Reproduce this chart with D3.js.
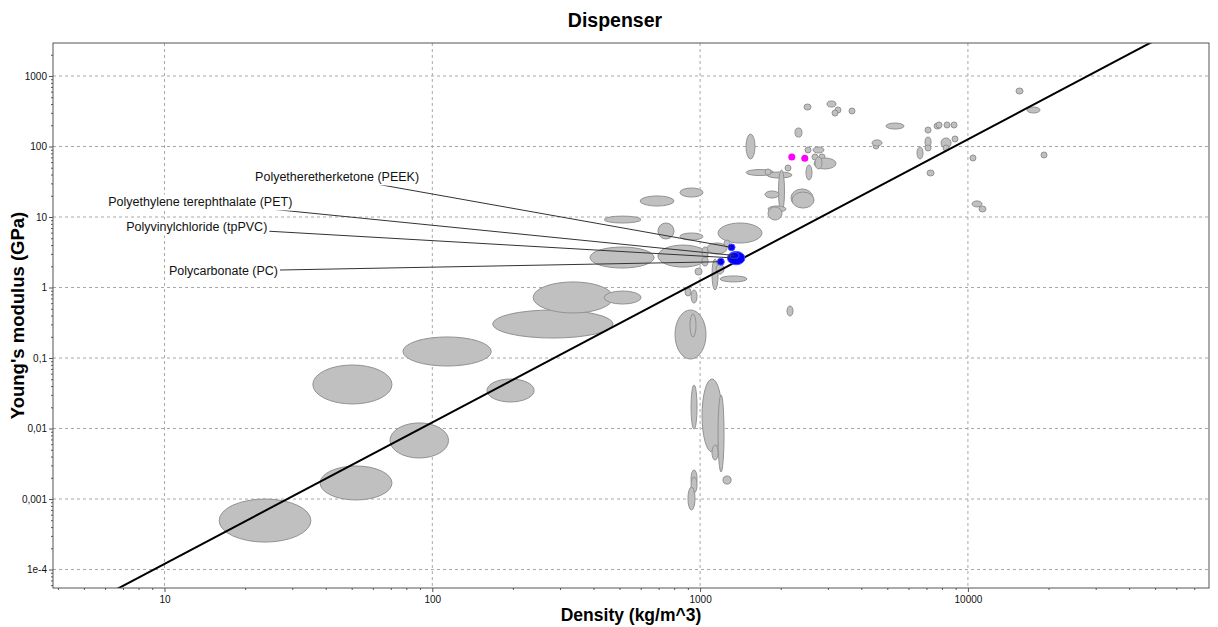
<!DOCTYPE html>
<html>
<head>
<meta charset="utf-8">
<script src="https://cdn.jsdelivr.net/npm/d3@7"></script>
<style>
  body { margin: 0; background: #fff; }
  text { font-family: "Liberation Sans", Arial, sans-serif; }
</style>
</head>
<body>
<svg id="chart" width="1218" height="627"></svg>
<script>
// axis ticks
const xTicks = [10, 100, 1000, 10000];
const xTickLabels = ["10", "100", "1000", "10000"];
const yTicks = [1000, 100, 10, 1, 0.1, 0.01, 0.001, 0.0001];
const yTickLabels = ["1000", "100", "10", "1", "0,1", "0,01", "0,001", "1e-4"];

// gray material bubbles: density range (kg/m^3) and Young's modulus range (GPa)
const densityLo = [16, 38.1, 69.5, 35.8, 77.7, 160, 168, 238, 438,
  388, 696, 597, 841, 438, 696, 841, 1167, 1017, 1061, 1228, 1108, 1147, 1187, 957, 878, 925, 1017,
  806, 917, 925, 1017, 1167, 1108, 1218, 925, 925, 901, 2111,
  1484, 2443, 2978, 3189, 3108, 3597, 2261, 2464, 2640, 2617, 2780, 2663, 2687, 2075, 2485,
  1484, 1777, 1971, 1747, 2185, 2204, 1793, 1793, 1747,
  4423, 4384, 4945, 6917, 7474, 7604, 8146, 8651, 6917, 6917, 6457, 7937, 8076, 8724,
  10180, 7037, 10360, 11000, 15120, 16620, 18750];
const densityHi = [35.2, 70.7, 115, 70.7, 166, 240, 473, 473, 602,
  673, 1070, 799, 1025, 602, 799, 1025, 1702, 1070, 1260, 1293, 1167, 1228, 1497, 1017, 925, 974, 1070,
  1052, 965, 974, 1207, 1228, 1167, 1305, 974, 974, 957, 2223,
  1603, 2595, 3217, 3358, 3273, 3787, 2401, 2595, 2900, 2755, 2927, 3217, 2852, 2185, 2617,
  1888, 2204, 2057, 1971, 2640, 2663, 2093, 2022, 1841,
  4658, 4778, 5773, 7283, 7937, 8006, 8577, 9108, 7283, 7283, 6798, 8651, 8503, 9183,
  10720, 7474, 11290, 11680, 16060, 18590, 19750];
const modulusLo = [2.45e-4, 9.7e-4, 3.82e-3, 0.0223, 0.077, 0.0238, 0.192, 0.435, 0.583,
  1.89, 1.95, 14.3, 19.2, 8.22, 4.88, 4.72, 4.28, 2.02, 2.99, 3.75, 0.922, 1.55, 1.2, 1.5, 0.758, 0.603, 2.71,
  0.0968, 0.199, 0.00984, 0.00464, 0.00242, 0.00357, 0.00163, 0.00148, 0.00122, 0.000698, 0.394,
  66.5, 329, 363, 299, 271, 289, 136, 80.9, 80.9, 64.3, 64.3, 48, 48, 44.9, 33.5,
  39.4, 35.7, 11.8, 18.6, 13.9, 13.4, 11.8, 9.07, 39.4,
  92.2, 102, 177, 155, 177, 183, 183, 183, 98.4, 86.4, 66.5, 95.2, 86.4, 116,
  62.3, 38.2, 13.9, 11.8, 555, 299, 68.7];
const modulusHi = [1.0e-3, 2.94e-3, 0.012, 0.0796, 0.199, 0.0504, 0.48, 1.2, 0.892,
  3.75, 4.0, 19.9, 25.8, 10.3, 8.22, 5.93, 8.22, 2.71, 4.28, 4.72, 2.54, 2.15, 1.46, 1.89, 0.984, 0.922, 3.75,
  0.48, 0.421, 0.0414, 0.0504, 0.0299, 0.00583, 0.00212, 0.00258, 0.00205, 0.00148, 0.547,
  150, 401, 442, 363, 329, 352, 183, 98.4, 98.4, 78.3, 78.3, 68.7, 71, 54.7, 54.7,
  46.4, 43.5, 46.4, 23.4, 25, 22.6, 14.3, 13.9, 48,
  116, 124, 215, 189, 215, 223, 223, 223, 136, 105, 98.4, 132, 105, 141,
  75.8, 46.4, 16.9, 14.3, 676, 363, 83.6];

// magenta points
const pinkDensity = [2200, 2460];
const pinkModulus = [71, 68];

// selected materials (blue) with labels
const selNames = ["Polyetheretherketone (PEEK)", "Polyethylene terephthalate (PET)",
  "Polyvinylchloride (tpPVC)", "Polycarbonate (PC)"];
const selDensityLo = [1272, 1293, 1265, 1160];
const selDensityHi = [1350, 1398, 1470, 1231];
const selModulusLo = [3.32, 2.62, 2.1, 2.07];
const selModulusHi = [4.15, 3.09, 3.25, 2.6];
// label anchor positions (in data units)
const labelDensity = [44.1, 13.6, 13.2, 16.6];
const labelModulus = [36.9, 16.3, 7.2, 1.71];

// guide line E ~ rho^2
const guideDensity = [1, 100000];
const guideModulus = [1.18e-6, 12900];

const W = 1218, H = 627;
const margin = { top: 43, right: 9, bottom: 39, left: 53 };
const plotW = W - margin.left - margin.right;
const plotH = H - margin.top - margin.bottom;

const svg = d3.select("#chart");

const x = d3.scaleLog().domain([3.834, 79480]).range([0, plotW]);
const y = d3.scaleLog().domain([5.47e-5, 2938]).range([plotH, 0]);

const g = svg.append("g").attr("transform", `translate(${margin.left},${margin.top})`);

svg.append("defs").append("clipPath").attr("id", "plotClip")
  .append("rect").attr("width", plotW).attr("height", plotH);

// minor ticks
const minorVals = (dom) => {
  const out = [];
  for (let e = -6; e <= 6; e++) {
    for (let m = 2; m <= 9; m++) {
      const v = m * Math.pow(10, e);
      if (v >= dom[0] && v <= dom[1]) out.push(v);
    }
  }
  return out;
};

// grid
g.append("g").selectAll("line").data(xTicks).join("line")
  .attr("x1", d => x(d)).attr("x2", d => x(d))
  .attr("y1", 0).attr("y2", plotH)
  .attr("stroke", "#a8a8a8").attr("stroke-dasharray", "3,3");
g.append("g").selectAll("line").data(yTicks).join("line")
  .attr("x1", 0).attr("x2", plotW)
  .attr("y1", d => y(d)).attr("y2", d => y(d))
  .attr("stroke", "#a8a8a8").attr("stroke-dasharray", "3,3");

// axes
g.append("g").attr("transform", `translate(0,${plotH})`)
  .call(d3.axisBottom(x).tickValues(xTicks).tickSize(4).tickPadding(4)
    .tickFormat((d, i) => xTickLabels[i]));
g.append("g").attr("transform", `translate(0,${plotH})`)
  .call(d3.axisBottom(x).tickValues(minorVals(x.domain())).tickSize(2).tickFormat(""));
g.append("g")
  .call(d3.axisLeft(y).tickValues(yTicks).tickSize(4).tickPadding(2)
    .tickFormat((d, i) => yTickLabels[i]));
g.append("g")
  .call(d3.axisLeft(y).tickValues(minorVals(y.domain())).tickSize(2).tickFormat(""));
g.selectAll(".domain").remove();
g.selectAll(".tick line").attr("stroke", "#555");
g.selectAll(".tick text").attr("font-size", 10).attr("fill", "#111")
  .attr("font-family", "'Liberation Sans', Arial, sans-serif");

const plot = g.append("g").attr("clip-path", "url(#plotClip)");

// gray bubbles
const bubbles = densityLo.map((d, i) => ({
  dLo: d, dHi: densityHi[i], eLo: modulusLo[i], eHi: modulusHi[i]
}));
const ell = (sel) => sel
  .attr("cx", d => (x(d.dLo) + x(d.dHi)) / 2)
  .attr("cy", d => (y(d.eLo) + y(d.eHi)) / 2)
  .attr("rx", d => Math.max(3, (x(d.dHi) - x(d.dLo)) / 2))
  .attr("ry", d => Math.max(3, (y(d.eLo) - y(d.eHi)) / 2));

plot.append("g").selectAll("ellipse").data(bubbles).join("ellipse")
  .call(ell)
  .attr("fill", "#c0c0c0").attr("stroke", "#929292").attr("stroke-width", 1);

// guide line
plot.append("line")
  .attr("x1", x(guideDensity[0])).attr("y1", y(guideModulus[0]))
  .attr("x2", x(guideDensity[1])).attr("y2", y(guideModulus[1]))
  .attr("stroke", "#000").attr("stroke-width", 2);

// magenta points
plot.append("g").selectAll("circle").data(pinkDensity).join("circle")
  .attr("cx", d => x(d)).attr("cy", (d, i) => y(pinkModulus[i]))
  .attr("r", 3.5).attr("fill", "#ff00ff");

// selected materials
const sel = selNames.map((n, i) => ({
  name: n, dLo: selDensityLo[i], dHi: selDensityHi[i], eLo: selModulusLo[i], eHi: selModulusHi[i],
  lx: x(labelDensity[i]), ly: y(labelModulus[i])
}));
sel.forEach(d => {
  d.cx = (x(d.dLo) + x(d.dHi)) / 2;
  d.cy = (y(d.eLo) + y(d.eHi)) / 2;
});

// leader lines
g.append("g").selectAll("line").data(sel).join("line")
  .attr("x1", d => d.lx).attr("y1", d => d.ly)
  .attr("x2", d => d.cx).attr("y2", d => d.cy)
  .attr("stroke", "#333").attr("stroke-width", 1);

const bySize = sel.slice().sort((a, b) => (b.dHi / b.dLo) - (a.dHi / a.dLo));
plot.append("g").selectAll("ellipse").data(bySize).join("ellipse")
  .call(ell)
  .attr("fill", "#0000ff").attr("stroke", "#4a4aff").attr("stroke-width", 1);

// labels with white box
const labels = g.append("g").selectAll("g").data(sel).join("g")
  .attr("transform", d => `translate(${d.lx},${d.ly})`);
labels.append("text")
  .attr("text-anchor", "middle").attr("dy", "0.35em")
  .attr("font-size", 12.5).attr("fill", "#111")
  .text(d => d.name);
labels.each(function () {
  const t = d3.select(this).select("text");
  const b = t.node().getBBox();
  d3.select(this).insert("rect", "text")
    .attr("x", b.x - 2).attr("y", b.y - 1)
    .attr("width", b.width + 4).attr("height", b.height + 2)
    .attr("fill", "#fff");
});

// plot border
g.append("rect").attr("width", plotW).attr("height", plotH)
  .attr("fill", "none").attr("stroke", "#555").attr("stroke-width", 1);

// titles
svg.append("text")
  .attr("x", 615).attr("y", 27)
  .attr("text-anchor", "middle")
  .attr("font-family", "'Open Sans', sans-serif")
  .attr("font-weight", 700).attr("font-size", 19.5)
  .text("Dispenser");

svg.append("text")
  .attr("x", margin.left + plotW / 2).attr("y", H - 6)
  .attr("text-anchor", "middle")
  .attr("font-weight", 700).attr("font-size", 17.5)
  .text("Density (kg/m^3)");

svg.append("text")
  .attr("transform", `translate(24,${margin.top + plotH / 2}) rotate(-90)`)
  .attr("text-anchor", "middle")
  .attr("font-weight", 700).attr("font-size", 18.5)
  .text("Young's modulus (GPa)");
</script>
</body>
</html>
